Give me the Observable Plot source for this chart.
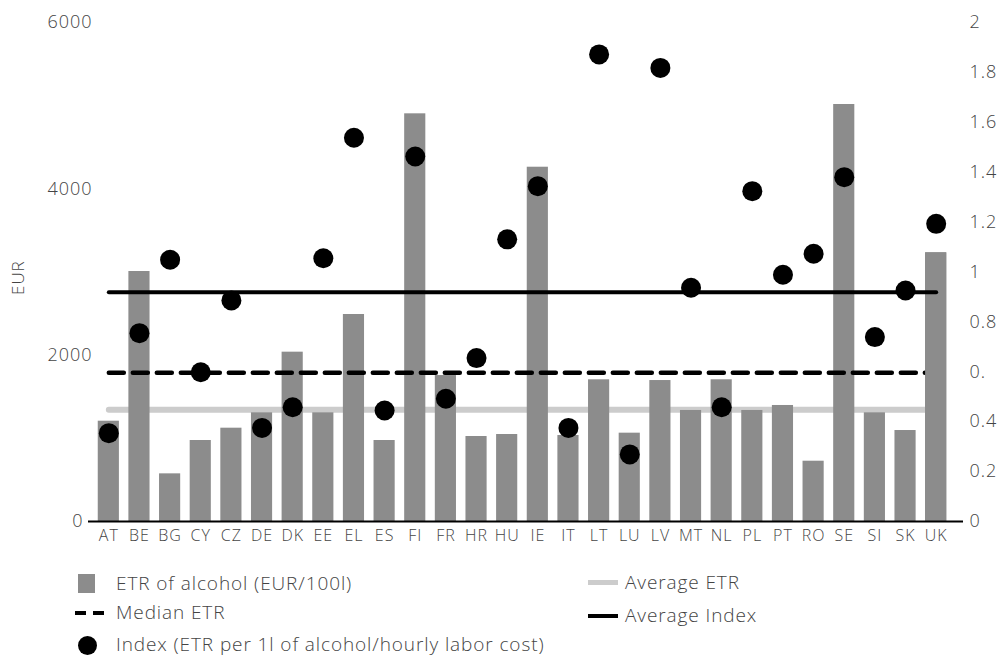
<!DOCTYPE html>
<html><head><meta charset="utf-8">
<script src="https://cdn.jsdelivr.net/npm/d3@7"></script>
<script src="https://cdn.jsdelivr.net/npm/@observablehq/plot@0.6"></script>
<style>
body{margin:0;background:#fff;font-family:"Open Sans",Lato,sans-serif;}
#wrap{position:relative;width:1002px;height:656px;overflow:hidden;}
#legend{position:absolute;left:0;top:0;width:1002px;height:656px;pointer-events:none;}
.lt{position:absolute;font-size:19px;line-height:19px;color:#444;white-space:nowrap;letter-spacing:0.9px;font-weight:300;}
.sw{position:absolute;}
#chart svg text{letter-spacing:1px;font-weight:300;}
</style></head><body>
<div id="wrap"><div id="chart"></div>
<div id="legend">
  <div class="sw" style="left:78px;top:574px;width:17px;height:19px;background:#8c8c8c"></div>
  <div class="lt" style="left:116px;top:574px">ETR of alcohol (EUR/100l)</div>
  <div class="sw" style="left:75px;top:611px;width:11px;height:4px;background:#000"></div>
  <div class="sw" style="left:93px;top:611px;width:11px;height:4px;background:#000"></div>
  <div class="lt" style="left:116px;top:603px">Median ETR</div>
  <div class="sw" style="left:78px;top:636px;width:19px;height:19px;border-radius:50%;background:#000"></div>
  <div class="lt" style="left:116px;top:635px">Index (ETR per 1l of alcohol/hourly labor cost)</div>
  <div class="sw" style="left:588px;top:580px;width:30px;height:5px;background:#cccccc"></div>
  <div class="lt" style="left:625px;top:573px">Average ETR</div>
  <div class="sw" style="left:588px;top:614px;width:30px;height:4px;background:#000"></div>
  <div class="lt" style="left:625px;top:606px">Average Index</div>
</div></div>
<script>
const countries = ["AT","BE","BG","CY","CZ","DE","DK","EE","EL","ES","FI","FR","HR","HU","IE","IT","LT","LU","LV","MT","NL","PL","PT","RO","SE","SI","SK","UK"];
const etrValues = [1206,3006,573,974,1122,1307,2036,1307,2489,974,4902,1755,1022,1046,4260,1034,1704,1062,1695,1335,1704,1335,1395,725,5014,1307,1094,3231];
const indexValues = [0.354,0.755,1.049,0.598,0.886,0.375,0.458,1.055,1.538,0.445,1.463,0.492,0.655,1.131,1.344,0.375,1.872,0.269,1.818,0.937,0.458,1.324,0.989,1.073,1.38,0.739,0.926,1.193];
const averageETR = 1343;
const medianETR = 1788;
const averageIndex = 0.919;
const leftTicks = [2000, 4000, 6000];
const leftZeroTick = [0];
const indexTicks = [0, 0.2, 0.4, 0.6, 0.8, 1, 1.2, 1.4, 1.6, 1.8, 2];
const indexTickLabels = ["0","0.2","0.4","0.","0.8","1","1.2","1.4","1.6","1.8","2"];
const indexToEUR = 3000; // right-axis 2 lines up with left-axis 6000

const data = countries.map((c, i) => ({country: c, etr: etrValues[i], index: indexValues[i]}));
const ends = [countries[0], countries[countries.length - 1]];
const lastBar = data.slice(-1);

const plot = Plot.plot({
  width: 1002, height: 560,
  marginLeft: 88, marginRight: 39, marginTop: 22, marginBottom: 39,
  style: {fontFamily: "'Open Sans', Lato, sans-serif", fontSize: "18px", color: "#444", background: "#fff"},
  x: {domain: countries, paddingInner: 0.31, paddingOuter: 0.155, insetLeft: 5, insetRight: 12, round: false, label: null},
  y: {domain: [0, 6000], label: null},
  marks: [
    Plot.lineY(ends, {x: d => d, y: () => averageETR, stroke: "#cccccc", strokeWidth: 6}),
    Plot.barY(data, {x: "country", y: "etr", fill: "#8c8c8c"}),
    Plot.lineY(ends, {x: d => d, y: () => medianETR, stroke: "#000", strokeWidth: 4.5, strokeDasharray: "15,9"}),
    Plot.barY(lastBar, {x: "country", y: "etr", fill: "#8c8c8c"}),
    Plot.lineY(ends, {x: d => d, y: () => averageIndex * indexToEUR, stroke: "#000", strokeWidth: 4}),
    Plot.dot(data, {x: "country", y: d => d.index * indexToEUR, r: 10, fill: "#000", stroke: null}),
    Plot.ruleY([0], {stroke: "#000", strokeWidth: 2}),
    Plot.axisX({tickSize: 0, tickPadding: 8, fontSize: 16, label: null}),
    Plot.axisY(leftTicks, {anchor: "left", tickSize: 0, tickPadding: -4, label: null, tickFormat: d => String(d)}),
    Plot.axisY(leftZeroTick, {anchor: "left", tickSize: 0, tickPadding: 5, label: null, tickFormat: d => String(d)}),
    Plot.axisY(indexTicks.map(t => t * indexToEUR), {
      anchor: "right", tickSize: 0, tickPadding: 6, label: null,
      tickFormat: d => indexTickLabels[indexTicks.findIndex(t => Math.abs(t * indexToEUR - d) < 1e-6)]
    }),
    Plot.text(["EUR"], {frameAnchor: "left", rotate: -90, dx: -70, dy: 23, fontSize: 17, fill: "#444"})
  ]
});
document.getElementById("chart").append(plot);
</script>
</body></html>
